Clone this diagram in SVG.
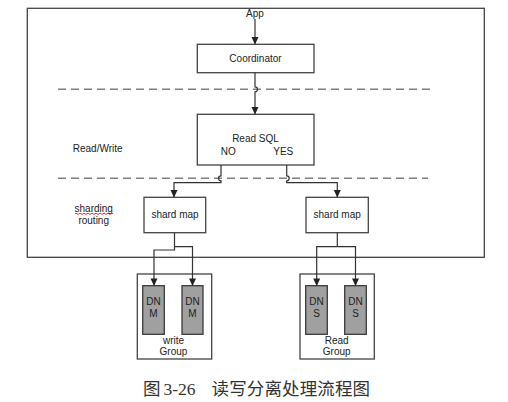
<svg xmlns="http://www.w3.org/2000/svg" width="508" height="402" viewBox="0 0 508 402">
<style>
.t{font-family:"Liberation Sans",Arial,sans-serif;font-size:10px;fill:#222;text-anchor:middle}
.box{fill:#fff;stroke:#444;stroke-width:1.3}
.dn{fill:#a0a0a0;stroke:#3a3a3a;stroke-width:1.3}
.ln{fill:none;stroke:#333;stroke-width:1.2}
.dash{fill:none;stroke:#808080;stroke-width:1.5;stroke-dasharray:8 5}
</style>
<defs>
<marker id="ar" markerUnits="userSpaceOnUse" markerWidth="8" markerHeight="8" viewBox="0 0 8 8" refX="7" refY="4" orient="auto">
<path d="M0,0.5 L7.5,4 L0,7.5 Z" fill="#222"/>
</marker>
</defs>
<rect width="508" height="402" fill="#fff"/>
<g id="frame"><rect x="27.3" y="8.3" width="457" height="249" fill="none" stroke="#444" stroke-width="1.3"/></g>
<g id="dividers">
<line class="dash" x1="58" y1="89.3" x2="430" y2="89.3"/>
<line class="dash" x1="58" y1="178.3" x2="428" y2="178.3"/>
</g>
<g id="app"><text class="t" x="255" y="17">App</text></g>
<g id="coordinator"><rect class="box" x="197.3" y="44.3" width="116.7" height="28.4"/><text class="t" x="255.5" y="61.5">Coordinator</text></g>
<g id="readsql"><rect class="box" x="197.3" y="114.3" width="116.7" height="50.7"/>
<text class="t" x="255.5" y="142">Read SQL</text>
<text class="t" x="228.3" y="154.5">NO</text>
<text class="t" x="283.3" y="154.5">YES</text></g>
<g id="label-rw"><text class="t" x="97.7" y="152">Read/Write</text></g>
<g id="label-sharding"><text class="t" x="93.7" y="212">sharding</text><text class="t" x="93.7" y="224">routing</text>
<path d="M75 213.8 q1 -1.3 2 0 t2 0 t2 0 t2 0 t2 0 t2 0 t2 0 t2 0 t2 0 t2 0 t2 0 t2 0 t2 0 t2 0 t2 0 t2 0 t2 0 t2 0 t2 0" fill="none" stroke="#e00" stroke-width="0.8"/></g>
<g id="shardmap-left"><rect class="box" x="144" y="197.3" width="61.7" height="35.4"/><text class="t" x="175" y="218">shard map</text></g>
<g id="shardmap-right"><rect class="box" x="306" y="197.3" width="62.3" height="35.4"/><text class="t" x="337.2" y="218">shard map</text></g>
<g id="write-group"><rect class="box" x="137.3" y="274" width="74.4" height="85"/>
<text class="t" x="173.5" y="344">write</text><text class="t" x="173.5" y="355">Group</text></g>
<g id="dn-m1"><rect class="dn" x="142.7" y="285.7" width="21.6" height="48.6"/><text class="t" x="153.5" y="304.5">DN</text><text class="t" x="153.5" y="317">M</text></g>
<g id="dn-m2"><rect class="dn" x="182" y="285.7" width="21" height="48.6"/><text class="t" x="192.5" y="304.5">DN</text><text class="t" x="192.5" y="317">M</text></g>
<g id="read-group"><rect class="box" x="300" y="274" width="74.3" height="85"/>
<text class="t" x="336.7" y="344">Read</text><text class="t" x="336.7" y="355">Group</text></g>
<g id="dn-s1"><rect class="dn" x="305.7" y="285.7" width="21.6" height="48.6"/><text class="t" x="316.5" y="304.5">DN</text><text class="t" x="316.5" y="317">S</text></g>
<g id="dn-s2"><rect class="dn" x="344.7" y="285.7" width="21.6" height="48.6"/><text class="t" x="355.5" y="304.5">DN</text><text class="t" x="355.5" y="317">S</text></g>
<g id="connectors">
<path class="ln" d="M255 19 V44" marker-end="url(#ar)"/>
<path class="ln" d="M255 72.7 V86.8 a2.5 2.5 0 0 1 0 5 V114" marker-end="url(#ar)"/>
<path class="ln" d="M221 165 V175.8 a2.5 2.5 0 0 0 0 5 V182.7 H174 V197" marker-end="url(#ar)"/>
<path class="ln" d="M286.7 165 V175.8 a2.5 2.5 0 0 1 0 5 V182.7 H337.3 V197" marker-end="url(#ar)"/>
<path class="ln" d="M174.5 232.7 V250 H154 V285.4" marker-end="url(#ar)"/>
<path class="ln" d="M174.5 246.7 H192.5 V285.4" marker-end="url(#ar)"/>
<path class="ln" d="M337.3 232.7 V246.7"/>
<path class="ln" d="M337.3 246.7 H316.7 V285.4" marker-end="url(#ar)"/>
<path class="ln" d="M337.3 246.7 H355.5 V285.4" marker-end="url(#ar)"/>
</g>
<g id="caption" font-size="17.5" fill="#333">
<text x="143" y="395" font-family="'Noto Sans CJK SC',sans-serif">图</text>
<text x="163.5" y="395" font-family="'Liberation Serif',serif">3-26</text>
<text x="211.5" y="395" font-family="'Noto Sans CJK SC',sans-serif" textLength="158.5">读写分离处理流程图</text>
</g>
</svg>
